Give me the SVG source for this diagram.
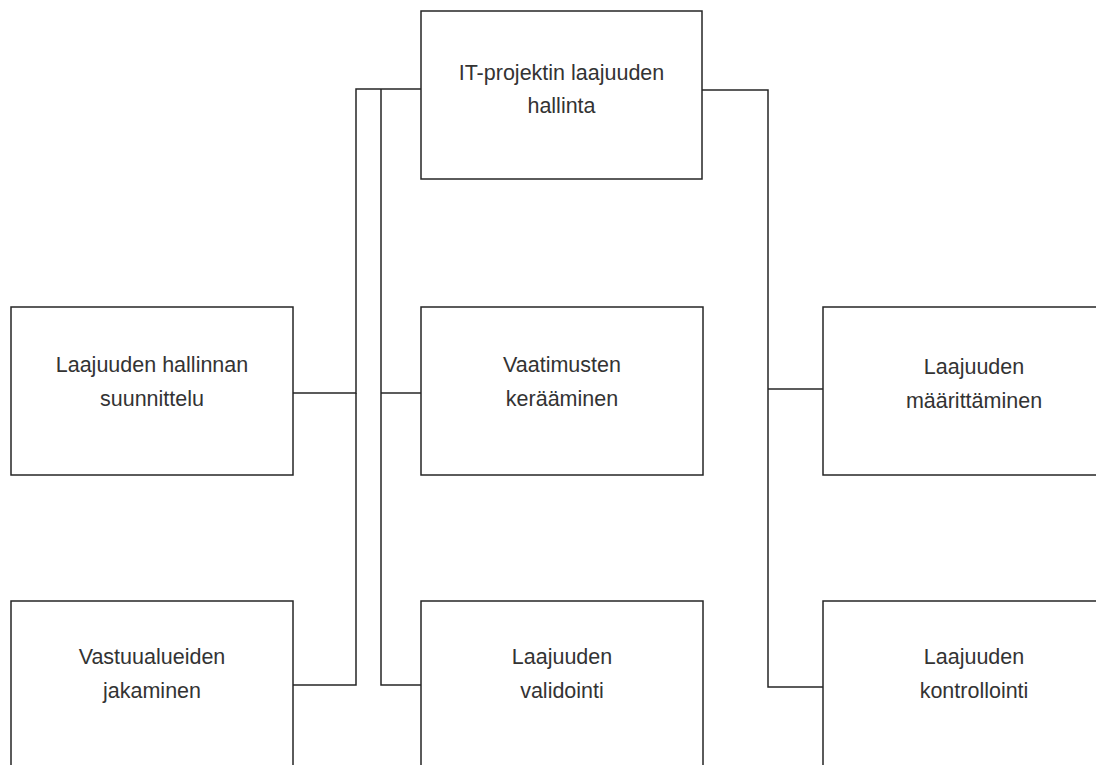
<svg xmlns="http://www.w3.org/2000/svg" width="1096" height="765" viewBox="0 0 1096 765">
<style>
.box{fill:#ffffff;stroke:#262626;stroke-width:1.5}
.lbl{font-family:"Liberation Sans",Arial,sans-serif;font-size:21.5px;fill:#333333;text-anchor:middle}
.conn{fill:none;stroke:#262626;stroke-width:1.5}
</style>
<rect width="1096" height="765" fill="#ffffff"/>
<g id="connectors">
<path class="conn" d="M421,89 H356 V393 H293"/>
<path class="conn" d="M356,393 V685 H293"/>
<path class="conn" d="M381,89 V685 H421"/>
<path class="conn" d="M381,393 H421"/>
<path class="conn" d="M702,90 H768 V687 H823"/>
<path class="conn" d="M768,389 H823"/>
</g>
<g id="n-root"><rect class="box" x="421" y="11" width="281" height="168"/><text class="lbl" x="561.5" y="80">IT-projektin laajuuden</text><text class="lbl" x="561.5" y="113">hallinta</text></g>
<g id="n-suunnittelu"><rect class="box" x="11" y="307" width="282" height="168"/><text class="lbl" x="152" y="372">Laajuuden hallinnan</text><text class="lbl" x="152" y="406">suunnittelu</text></g>
<g id="n-keraaminen"><rect class="box" x="421" y="307" width="282" height="168"/><text class="lbl" x="562" y="372">Vaatimusten</text><text class="lbl" x="562" y="406">kerääminen</text></g>
<g id="n-maarittaminen"><rect class="box" x="823" y="307" width="282" height="168"/><text class="lbl" x="974" y="374">Laajuuden</text><text class="lbl" x="974" y="408">määrittäminen</text></g>
<g id="n-jakaminen"><rect class="box" x="11" y="601" width="282" height="180"/><text class="lbl" x="152" y="664">Vastuualueiden</text><text class="lbl" x="152" y="698">jakaminen</text></g>
<g id="n-validointi"><rect class="box" x="421" y="601" width="282" height="180"/><text class="lbl" x="562" y="664">Laajuuden</text><text class="lbl" x="562" y="698">validointi</text></g>
<g id="n-kontrollointi"><rect class="box" x="823" y="601" width="282" height="180"/><text class="lbl" x="974" y="664">Laajuuden</text><text class="lbl" x="974" y="698">kontrollointi</text></g>
</svg>
